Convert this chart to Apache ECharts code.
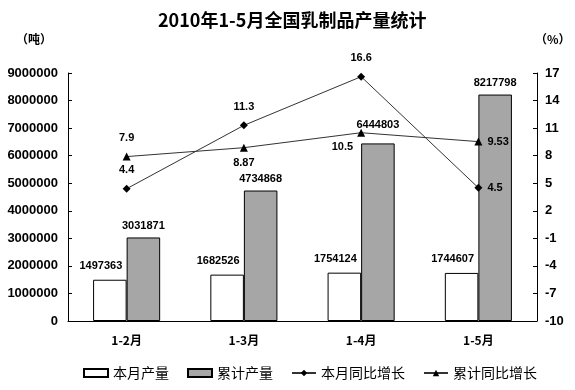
<!DOCTYPE html>
<html><head><meta charset="utf-8">
<script src="https://cdn.jsdelivr.net/npm/echarts@6/dist/echarts.min.js"></script>
<style>html,body{margin:0;padding:0;background:#fff}#c{width:575px;height:390px}</style>
</head><body><div id="c"></div>
<script>
const categories = ['1-2月', '1-3月', '1-4月', '1-5月'];
const monthOutput = [1497363, 1682526, 1754124, 1744607];
const cumOutput = [3031871, 4734868, 6444803, 8217798];
const monthGrowth = [4.4, 11.3, 16.6, 4.5];
const cumGrowth = [7.9, 8.87, 10.5, 9.53];
const leftTicks = { min: 0, max: 9000000, interval: 1000000 };
const rightTicks = { min: -10, max: 17, interval: 3 };

// right axis drawn with an offset so ticks start at -10
const OFF = -rightTicks.min;
const cjk = '"Noto Sans CJK SC", sans-serif';
const num = '"Liberation Sans", Arial, sans-serif';

const lblBase = { show: true, fontFamily: num, fontSize: 11, fontWeight: 'bold', color: '#000' };
const monthBarLabels = [{}, {}, {}, {}].map(() => ({ position: 'top', distance: 8, offset: [-9, 0] }));
const cumBarLabels = [{ distance: 6 }, { distance: 6 }, { distance: 13 }, { distance: 6 }];
const mgLabels = [{ position: 'top', distance: 9 }, { position: 'top', distance: 9 }, { position: 'top', distance: 9 }, { position: 'right', distance: 5 }];
const cgLabels = [{ position: 'top', distance: 9 }, { position: 'bottom', distance: 6 }, { position: 'left', distance: 4, offset: [0, 14] }, { position: 'right', distance: 5 }];

const chart = echarts.init(document.getElementById('c'), null, { renderer: 'canvas' });
chart.setOption({
  animation: false,
  backgroundColor: '#fff',
  title: {
    text: '2010年1-5月全国乳制品产量统计', left: 153, top: 6,
    textStyle: { fontFamily: cjk, fontSize: 18, fontWeight: 'bold', color: '#000' }
  },
  graphic: [
    { type: 'text', left: 16, top: 33, style: { text: '（吨）', font: 'bold 12px ' + cjk, fill: '#000' } },
    { type: 'text', left: 535, top: 33, style: { text: '（%）', font: 'bold 12px ' + cjk, fill: '#000' } }
  ],
  legend: {
    left: 78, top: 361, itemWidth: 24, itemHeight: 8, itemGap: 18,
    textStyle: { fontFamily: cjk, fontSize: 14, color: '#000' },
    data: [
      { name: '本月产量', icon: 'rect' },
      { name: '累计产量', icon: 'rect' },
      '本月同比增长', '累计同比增长'
    ]
  },
  grid: { left: 68, right: 38, top: 73, bottom: 69, containLabel: false },
  xAxis: {
    type: 'category', data: categories, boundaryGap: true,
    axisLine: { lineStyle: { color: '#000', width: 1 } },
    axisTick: { inside: true, length: 4, lineStyle: { color: '#000' } },
    axisLabel: { fontFamily: cjk, fontSize: 12, fontWeight: 'bold', color: '#000', margin: 13 }
  },
  yAxis: [
    {
      type: 'value', min: leftTicks.min, max: leftTicks.max, interval: leftTicks.interval,
      axisLine: { show: true, lineStyle: { color: '#000' } },
      axisTick: { show: true, inside: true, length: 4, lineStyle: { color: '#000' } },
      splitLine: { show: false },
      axisLabel: { fontFamily: num, fontSize: 13, fontWeight: 'bold', color: '#000', margin: 10,
        formatter: v => String(v) }
    },
    {
      type: 'value', min: rightTicks.min + OFF, max: rightTicks.max + OFF, interval: rightTicks.interval,
      axisLine: { show: true, lineStyle: { color: '#000' } },
      axisTick: { show: true, inside: true, length: 4, lineStyle: { color: '#000' } },
      splitLine: { show: false },
      axisLabel: { fontFamily: num, fontSize: 13, fontWeight: 'bold', color: '#000', margin: 8,
        formatter: v => String(v - OFF) }
    }
  ],
  series: [
    {
      name: '本月产量', type: 'bar', barWidth: '28.6%', barGap: '0%',
      itemStyle: { color: '#fff', borderColor: '#000', borderWidth: 1 },
      data: monthOutput.map((v, i) => ({ value: v, label: Object.assign({}, lblBase, monthBarLabels[i]) }))
    },
    {
      name: '累计产量', type: 'bar', barWidth: '28.6%', barGap: '0%',
      itemStyle: { color: '#a6a6a6', borderColor: '#000', borderWidth: 1 },
      data: cumOutput.map((v, i) => ({ value: v, label: Object.assign({}, lblBase, { position: 'top' }, cumBarLabels[i]) }))
    },
    {
      name: '本月同比增长', type: 'line', yAxisIndex: 1, symbol: 'diamond', symbolSize: 8,
      itemStyle: { color: '#000' }, lineStyle: { color: '#333', width: 1 },
      data: monthGrowth.map((v, i) => ({ value: v + OFF, label: Object.assign({}, lblBase, mgLabels[i], { formatter: String(v) }) }))
    },
    {
      name: '累计同比增长', type: 'line', yAxisIndex: 1, symbol: 'triangle', symbolSize: 8,
      itemStyle: { color: '#000' }, lineStyle: { color: '#333', width: 1 },
      data: cumGrowth.map((v, i) => ({ value: v + OFF, label: Object.assign({}, lblBase, cgLabels[i], { formatter: String(v) }) }))
    }
  ]
});
</script></body></html>
